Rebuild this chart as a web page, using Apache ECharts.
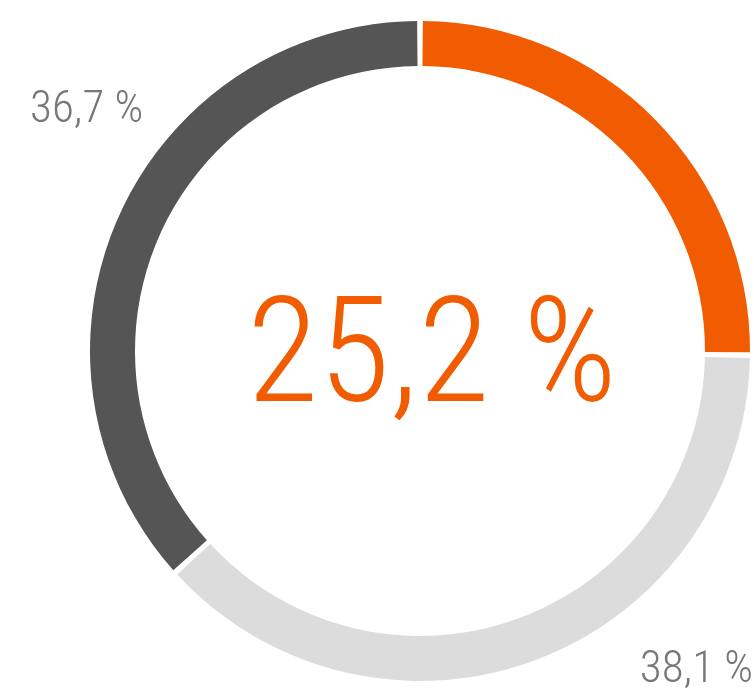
<!DOCTYPE html>
<html>
<head>
<meta charset="utf-8">
<script src="https://cdn.jsdelivr.net/npm/echarts@6/dist/echarts.min.js"></script>
<style>
  html, body { margin: 0; padding: 0; background: #fff; }
  #chart { width: 754px; height: 691px; }
</style>
</head>
<body>
<div id="chart"></div>
<script>
const categories = ['Anteil A', 'Anteil B', 'Anteil C'];
const values = [25.2, 38.1, 36.7];
const colors = ['#f25c00', '#dcdcdc', '#555555'];

// where each label sits (x, y, align)
const labelSpots = [
  { x: 432, y: 364, align: 'center' },
  { x: 753, y: 671, align: 'right' },
  { x: 30, y: 111, align: 'left' }
];

const fmt = v => v.toFixed(1).replace('.', ',') + ' %';

const chart = echarts.init(document.getElementById('chart'));

chart.setOption({
  animation: false,
  series: [
    {
      type: 'pie',
      center: [420, 351],
      radius: [285, 330],
      startAngle: 90,
      clockwise: true,
      padAngle: 1,
      avoidLabelOverlap: false,
      labelLine: { show: false },
      label: {
        show: true,
        position: 'outside',
        formatter: p => fmt(p.value),
        fontFamily: '"Roboto Condensed", "Roboto", sans-serif',
        fontWeight: 300,
        fontSize: 45,
        color: '#777777'
      },
      labelLayout: p => ({
        x: labelSpots[p.dataIndex].x,
        y: labelSpots[p.dataIndex].y,
        align: labelSpots[p.dataIndex].align,
        verticalAlign: 'middle'
      }),
      emphasis: { disabled: true },
      data: categories.map((name, i) => ({
        name: name,
        value: values[i],
        itemStyle: { color: colors[i] },
        label: i === 0 ? { fontSize: 147, color: colors[0] } : {}
      }))
    }
  ]
});
</script>
</body>
</html>
